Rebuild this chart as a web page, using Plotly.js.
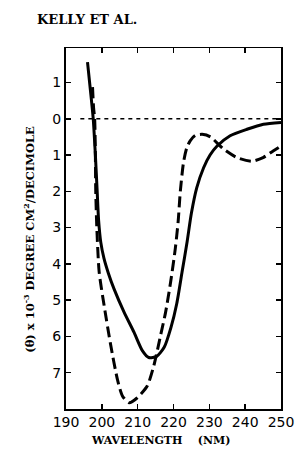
<!DOCTYPE html>
<html><head><meta charset="utf-8">
<script src="https://cdn.plot.ly/plotly-3.0.1.min.js"></script>
<style>html,body{margin:0;padding:0;background:#fff}#chart{width:298px;height:456px}</style>
</head><body><div id="chart"></div>
<script>
// Solid curve
const solidWl  = [196.0, 196.8, 197.6, 198.2, 198.7, 199.1, 199.7, 200.6, 201.8, 203.4, 206.2, 209.0, 211.3, 213.1, 215.3, 217.4, 219.3, 220.9, 222.4, 223.8, 225.0, 226.5, 228.4, 230.2, 232.1, 235.8, 240.5, 245.1, 250.0];
const solidVal = [1.56, 0.8, 0, -1, -2, -2.8, -3.4, -3.85, -4.25, -4.69, -5.33, -5.89, -6.39, -6.58, -6.55, -6.3, -5.75, -5.1, -4.22, -3.39, -2.6, -1.9, -1.35, -1.0, -0.76, -0.47, -0.29, -0.15, -0.1];
// Dashed curve
const dashWl  = [197.4, 197.7, 198.0, 198.2, 198.3, 198.6, 199.25, 200.64, 202.5, 204.36, 205.75, 207.6, 209.9, 212.7, 214.5, 216.4, 217.8, 219.2, 220.5, 221.3, 221.9, 222.8, 223.7, 224.7, 226.1, 228.0, 230.3, 233.9, 237.7, 241.9, 245.0, 247.8, 250.0];
const dashVal = [0.87, 0.3, 0, -1, -2, -3, -4.22, -5.15, -6.25, -7.19, -7.64, -7.83, -7.69, -7.36, -6.81, -5.97, -5.33, -4.5, -3.58, -2.83, -2.0, -1.2, -0.8, -0.6, -0.46, -0.43, -0.5, -0.83, -1.07, -1.17, -1.07, -0.89, -0.75];
// Zero reference line
const zeroWl  = [194, 250];
const zeroVal = [0, 0];
// Axis ticks
const xTicks = [190, 200, 210, 220, 230, 240, 250];
const yTickVals = [1, 0, -1, -2, -3, -4, -5, -6, -7];
const yTickText = ['1', '0', '1', '2', '3', '4', '5', '6', '7'];

const traces = [
  {x: zeroWl, y: zeroVal, mode: 'lines', line: {color: '#000', width: 1.5, dash: '4px,4px'}, hoverinfo: 'skip'},
  {x: solidWl, y: solidVal, mode: 'lines', line: {color: '#000', width: 3, shape: 'spline', smoothing: 0.65}},
  {x: dashWl, y: dashVal, mode: 'lines', line: {color: '#000', width: 3, shape: 'spline', smoothing: 0.65, dash: '11px,5px'}}
];

const tickFont = {family: 'DejaVu Sans, sans-serif', size: 14, color: '#000'};
const layout = {
  width: 298, height: 456,
  margin: {l: 66, r: 17, t: 48, b: 47},
  paper_bgcolor: '#fff', plot_bgcolor: '#fff',
  showlegend: false,
  xaxis: {
    range: [190, 250], tickvals: xTicks, ticks: 'inside', ticklen: 5, tickwidth: 1.5, tickcolor: '#000',
    showline: true, linewidth: 1.5, linecolor: '#000', mirror: 'ticks', showgrid: false, zeroline: false,
    tickfont: tickFont
  },
  yaxis: {
    range: [-8, 1.95], tickvals: yTickVals, ticktext: yTickText, ticks: 'inside', ticklen: 5, tickwidth: 1.5, tickcolor: '#000',
    showline: true, linewidth: 2, linecolor: '#000', mirror: 'ticks', showgrid: false, zeroline: false,
    tickfont: tickFont
  },
  annotations: [
    {text: '<b>KELLY ET AL.</b>', xref: 'paper', yref: 'paper', x: -0.145, y: 1.08, xanchor: 'left', yanchor: 'middle', showarrow: false,
     font: {family: 'DejaVu Serif, serif', size: 13, color: '#000'}},
    {text: '<b>(θ) x 10<sup>-3</sup> DEGREE CM<sup>2</sup>/DECIMOLE</b>', xref: 'paper', yref: 'paper', x: -0.17, y: 0.47, textangle: -90,
     xanchor: 'center', yanchor: 'middle', showarrow: false, font: {family: 'DejaVu Serif', size: 11.5, color: '#000'}},
    {text: '<b>WAVELENGTH    (NM)</b>', xref: 'paper', yref: 'paper', x: 0.44, y: -0.087, xanchor: 'center', yanchor: 'middle', showarrow: false,
     font: {family: 'DejaVu Serif', size: 11, color: '#000'}}
  ]
};
Plotly.newPlot('chart', traces, layout, {displayModeBar: false, staticPlot: true});
</script></body></html>
